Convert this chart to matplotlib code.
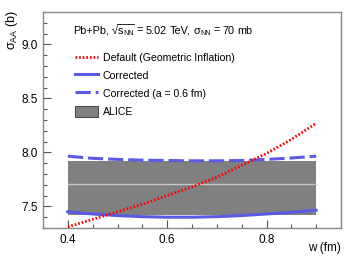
import matplotlib
matplotlib.use("Agg")
import matplotlib.pyplot as plt
from matplotlib.ticker import MultipleLocator
from matplotlib.patches import Patch
from matplotlib.lines import Line2D
from matplotlib.transforms import IdentityTransform

plt.rcParams['font.family'] = ['Liberation Sans', 'DejaVu Sans']
plt.rcParams['mathtext.fontset'] = 'custom'
plt.rcParams['mathtext.rm'] = 'Liberation Sans'
plt.rcParams['mathtext.it'] = 'Liberation Sans'

w = [0.40, 0.45, 0.50, 0.55, 0.60, 0.65, 0.70, 0.75, 0.80, 0.85, 0.90]
default = [7.31, 7.38, 7.45, 7.52, 7.60, 7.68, 7.77, 7.88, 7.99, 8.12, 8.27]
corrected = [7.45, 7.43, 7.415, 7.405, 7.40, 7.40, 7.405, 7.415, 7.43, 7.445, 7.465]
corrected_a = [7.965, 7.945, 7.935, 7.928, 7.925, 7.922, 7.922, 7.925, 7.935, 7.948, 7.965]
alice_w = [0.40, 0.90]
alice_low = 7.42
alice_high = 7.92
alice_central = 7.71

W, H = 357, 259
fig = plt.figure(figsize=(W/100, H/100), dpi=100)
ax = fig.add_axes([43/W, 1-228/H, 298/W, 216/H])

blue = '#5a5ae6'
ax.fill_between(alice_w, [alice_low]*2, [alice_high]*2, color='#808080', lw=0, zorder=1)
ax.plot(alice_w, [alice_central]*2, color='#c8c8c8', lw=1.0, zorder=2)
ax.plot(w, corrected_a, color=blue, lw=2.2, ls=(0, (5, 1.6)), zorder=3)
ax.plot(w, corrected, color=blue, lw=2.2, zorder=3)
ax.plot(w, default, color='#ff0000', lw=2.0, ls=(0, (0.6, 0.7)), zorder=4)

ax.set_xlim(0.35, 0.95)
ax.set_ylim(7.3, 9.3)
ax.xaxis.set_major_locator(MultipleLocator(0.2))
ax.xaxis.set_minor_locator(MultipleLocator(0.05))
ax.yaxis.set_major_locator(MultipleLocator(0.5))
ax.yaxis.set_minor_locator(MultipleLocator(0.1))
ax.tick_params(which='both', direction='in', top=False, right=False, labelsize=8.5, color='#555555', pad=4)
ax.tick_params(which='major', length=6, width=0.8)
ax.tick_params(which='minor', length=3, width=0.8)
for s in ax.spines.values():
    s.set_color('#888888')
    s.set_linewidth(1.0)

fig.text(12/W, 1-10/H, r'$\sigma_{\mathrm{AA}}$ (b)', rotation=90, ha='center', va='top', fontsize=9)
fig.text(341/W, 1-248/H, 'w (fm)', ha='right', va='center', fontsize=8.5)

# header annotation built from pieces (text, size, baseline shift px, gap after px)
renderer = fig.canvas.get_renderer()
pieces = [
    ("Pb+Pb,", 7.8, 0, 3.0),
    ("\u221a", 7.8, 0, 0.0),
    ("s", 7.8, 0, 0.3),
    ("NN", 5.0, -1.8, 2.4),
    ("=", 7.8, 0, 2.8),
    ("5.02", 7.8, 0, 2.9),
    ("TeV,", 7.8, 0, 2.6),
    ("\u03c3", 7.8, 0, 0.2),
    ("NN", 5.0, -1.8, 2.4),
    ("=", 7.8, 0, 2.8),
    ("70", 7.8, 0, 2.9),
    ("mb", 7.8, 0, 0.0),
]
x = 73.0
base = H - 33.5
ends = []
for txt, size, dy, gap in pieces:
    t = fig.text(x, base + dy, txt, fontsize=size, va='baseline', ha='left',
                 transform=IdentityTransform())
    wdt = t.get_window_extent(renderer).width
    ends.append((x, x + wdt))
    x += wdt + gap
# overline of the square root
x_start = ends[1][1] - 0.6
x_end = ends[3][1] + 0.3
fig.add_artist(Line2D([x_start, x_end], [base + 9.6, base + 9.6], color='black', lw=0.6,
                      transform=IdentityTransform()))

handles = [
    Line2D([], [], color='#ff0000', lw=2.0, ls=(0, (0.6, 0.7))),
    Line2D([], [], color=blue, lw=2.2),
    Line2D([], [], color=blue, lw=2.2, ls=(0, (5, 1.6))),
    Patch(facecolor='#808080', edgecolor='#333333', lw=0.6),
]
labels = ['Default (Geometric Inflation)', 'Corrected', 'Corrected (a = 0.6 fm)', 'ALICE']
ax.legend(handles, labels, loc='upper left', bbox_to_anchor=((75-43)/298, 1-(52-12)/216), frameon=False,
          fontsize=7.6, handlelength=2.2, handleheight=1.3, labelspacing=0.6, handletextpad=0.45,
          borderaxespad=0, borderpad=0)

fig.savefig('out.png', dpi=100)
